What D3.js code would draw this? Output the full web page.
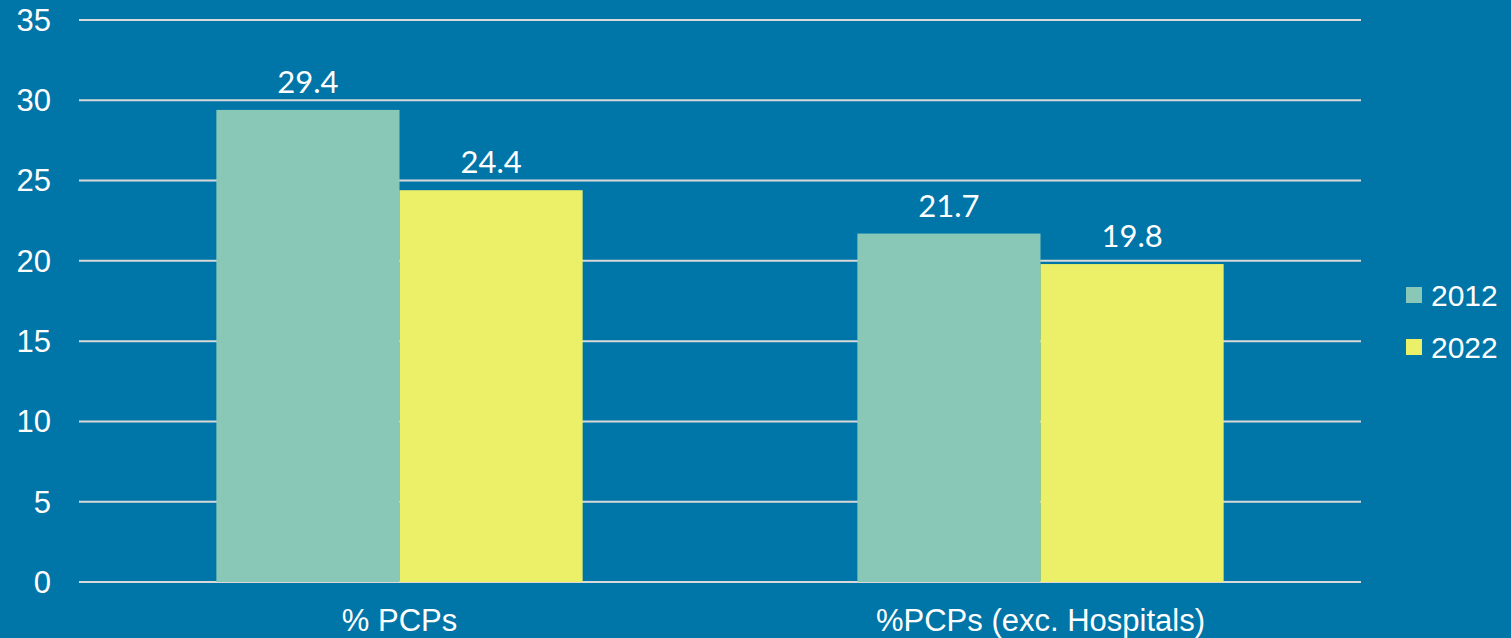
<!DOCTYPE html>
<html>
<head>
<meta charset="utf-8">
<script src="https://cdnjs.cloudflare.com/ajax/libs/d3/7.8.5/d3.min.js"></script>
<style>
	html, body { margin: 0; padding: 0; background: #0075a8; }
	svg { display: block; }
</style>
</head>
<body>
<script>
var categories = ["% PCPs", "%PCPs (exc. Hospitals)"];
var years = ["2012", "2022"];
var values2012 = [29.4, 21.7];
var values2022 = [24.4, 19.8];
var yTicks = [0, 5, 10, 15, 20, 25, 30, 35];

var svg = d3.select("body").append("svg")
	.attr("width", 1511)
	.attr("height", 638);

var margin = {top: 20, right: 150, bottom: 56, left: 79},
	width = +svg.attr("width") - margin.left - margin.right,
	height = +svg.attr("height") - margin.top - margin.bottom,
	g = svg.append("g").attr("transform", "translate(" + margin.left + "," + margin.top + ")");

var colors = d3.scaleOrdinal()
	.range(["#89c8b7", "#ecf068"])
	.domain(years);

var data = categories.map(function(c, i){
	return {key: c, values: [
		{year: "2012", value: values2012[i]},
		{year: "2022", value: values2022[i]}
	]};
});

var x0 = d3.scaleBand()
	.range([0, width])
	.padding(0)
	.domain(categories);

var x1 = d3.scaleBand()
	.range([0, x0.bandwidth()])
	.paddingInner(0)
	.paddingOuter(0.75)
	.domain(years);

var y = d3.scaleLinear()
	.range([height, 0])
	.domain([0, 35]);

// gridlines
g.append("g")
	.selectAll("line")
	.data(yTicks)
	.enter().append("line")
		.attr("x1", 0)
		.attr("x2", width)
		.attr("y1", function(d){ return y(d); })
		.attr("y2", function(d){ return y(d); })
		.attr("stroke", "#d9d9d9")
		.attr("stroke-width", 2);

// y labels
g.append("g")
	.selectAll("text")
	.data(yTicks)
	.enter().append("text")
		.attr("x", -28)
		.attr("y", function(d){ return y(d); })
		.attr("dy", "0.35em")
		.attr("text-anchor", "end")
		.attr("fill", "#fff")
		.attr("font-family", "Liberation Sans, Arial, sans-serif")
		.attr("font-size", 31)
		.text(function(d){ return d; });

var groups = g.selectAll(".group")
	.data(data)
	.enter().append("g")
		.attr("class", "group")
		.attr("transform", function(d){ return "translate(" + x0(d.key) + ",0)"; });

groups.selectAll("rect")
	.data(function(d){ return d.values; })
	.enter().append("rect")
		.attr("x", function(d){ return x1(d.year); })
		.attr("width", x1.bandwidth())
		.attr("y", function(d){ return y(d.value); })
		.attr("height", function(d){ return height - y(d.value); })
		.attr("fill", function(d){ return colors(d.year); });

groups.selectAll(".val")
	.data(function(d){ return d.values; })
	.enter().append("text")
		.attr("class", "val")
		.attr("x", function(d){ return x1(d.year) + x1.bandwidth() / 2; })
		.attr("y", function(d){ return y(d.value) - 17; })
		.attr("text-anchor", "middle")
		.attr("fill", "#fff")
		.attr("font-family", "Lato, sans-serif")
		.attr("font-size", 31)
		.text(function(d){ return d.value.toFixed(1); });

// x labels
g.append("g")
	.selectAll("text")
	.data(categories)
	.enter().append("text")
		.attr("x", function(d){ return x0(d) + x0.bandwidth() / 2; })
		.attr("y", height + 49)
		.attr("text-anchor", "middle")
		.attr("fill", "#fff")
		.attr("font-family", "Liberation Sans, Arial, sans-serif")
		.attr("font-size", 31)
		.text(function(d){ return d; });

// legend
var legend = svg.append("g")
	.selectAll("g")
	.data(years)
	.enter().append("g")
		.attr("transform", function(d, i){ return "translate(1406," + (287 + i * 52) + ")"; });

legend.append("rect")
	.attr("width", 16)
	.attr("height", 16)
	.attr("fill", colors);

legend.append("text")
	.attr("x", 25)
	.attr("y", 19)
	.attr("fill", "#fff")
	.attr("font-family", "Liberation Sans, Arial, sans-serif")
	.attr("font-size", 30)
	.text(function(d){ return d; });
</script>
</body>
</html>
